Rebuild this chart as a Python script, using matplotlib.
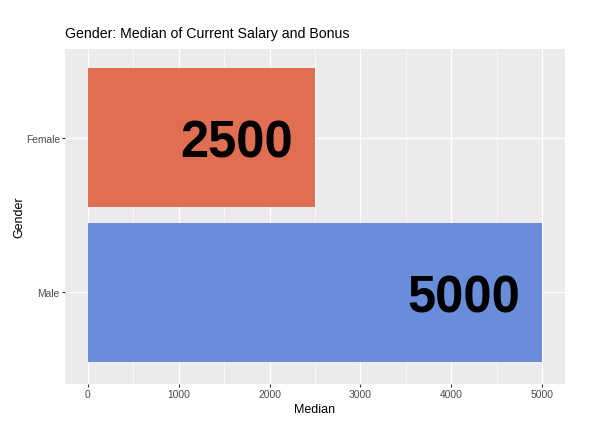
import matplotlib
matplotlib.use("Agg")
import matplotlib.pyplot as plt
from matplotlib.ticker import MultipleLocator

categories = ["Male", "Female"]
medians = [5000, 2500]
bar_colors = ["#6A8DD9", "#E06E53"]
x_ticks = [0, 1000, 2000, 3000, 4000, 5000]

plt.rcParams['font.family'] = ['Liberation Sans', 'DejaVu Sans']

fig = plt.figure(figsize=(5.95, 4.31), dpi=100)
ax = fig.add_axes([65/595, 1-385/431, 500/595, 335/431])
ax.set_facecolor("#EBEBEB")

ypos = list(range(len(categories)))
ax.barh(ypos, medians, height=0.9, color=bar_colors, zorder=3)
for y, v in zip(ypos, medians):
    ax.annotate(str(v), xy=(v - 243, y), xytext=(0, -14), textcoords='offset points',
                ha='right', va='baseline', fontsize=36.5,
                fontweight='bold', color='black', zorder=4)

ax.set_xlim(-250, 5250)
ax.set_ylim(-0.595, 1.573)
ax.set_xticks(x_ticks)
ax.xaxis.set_minor_locator(MultipleLocator(500))
ax.set_yticks(ypos)
ax.set_yticklabels(categories)
ax.grid(which='major', color='white', linewidth=1.0, zorder=0)
ax.grid(which='minor', axis='x', color='white', linewidth=0.5, zorder=0)
ax.set_axisbelow(True)
for s in ax.spines.values():
    s.set_visible(False)
ax.tick_params(which='major', length=2.2, color='#333333', labelsize=7.4,
               labelcolor='#4D4D4D', pad=1.5)
ax.tick_params(which='minor', length=0)
ax.set_xlabel("Median", fontsize=9, color='black', labelpad=3)
ax.set_ylabel("Gender", fontsize=9, color='black', labelpad=0.5)
ax.set_title("Gender: Median of Current Salary and Bonus", loc='left',
             fontsize=10.2, color='black', pad=8.5)

fig.savefig("out.png", dpi=100, facecolor='white')
